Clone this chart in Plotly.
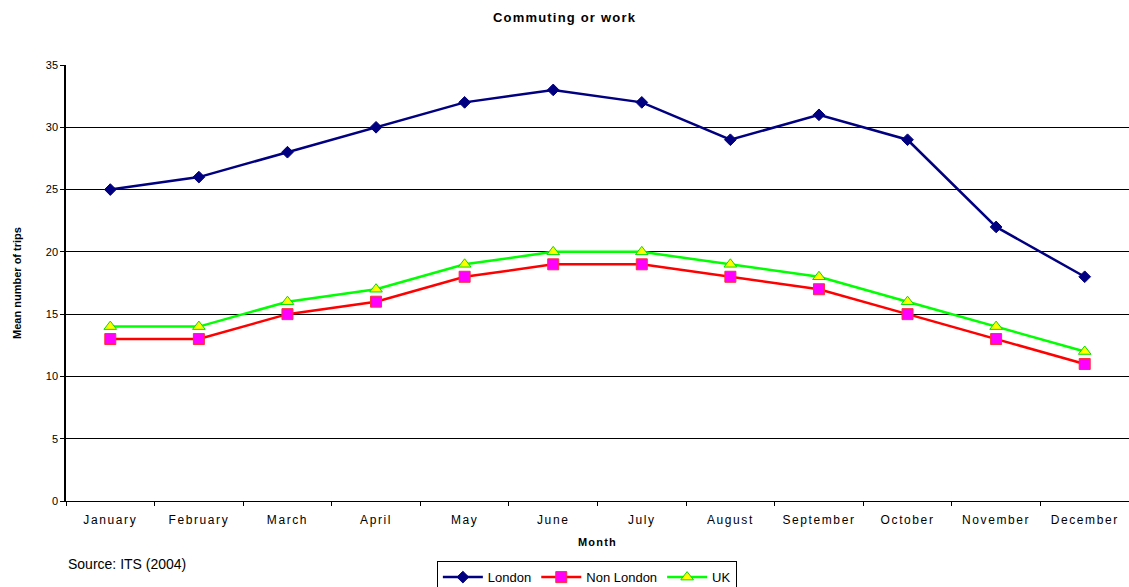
import plotly.graph_objects as go

months = ["January", "February", "March", "April", "May", "June", "July",
          "August", "September", "October", "November", "December"]
london = [25, 26, 28, 30, 32, 33, 32, 29, 31, 29, 22, 18]
non_london = [13, 13, 15, 16, 18, 19, 19, 18, 17, 15, 13, 11]
uk = [14, 14, 16, 17, 19, 20, 20, 19, 18, 16, 14, 12]
y_ticks = [0, 5, 10, 15, 20, 25, 30, 35]

FONT = "Liberation Sans, Arial, sans-serif"

fig = go.Figure()
fig.add_trace(go.Scatter(
    x=months, y=london, name="London", mode="lines+markers",
    line=dict(color="#000080", width=2.5),
    marker=dict(symbol="diamond", size=9, color="#000080",
                line=dict(color="#000080", width=1))))
fig.add_trace(go.Scatter(
    x=months, y=non_london, name="Non London", mode="lines+markers",
    line=dict(color="#ff0000", width=2.5),
    marker=dict(symbol="square", size=11, color="#ff00ff",
                line=dict(color="#ff3030", width=1))))
fig.add_trace(go.Scatter(
    x=months, y=uk, name="UK", mode="lines+markers",
    line=dict(color="#00ff00", width=2.5),
    marker=dict(symbol="triangle-up", size=11, color="#ffff00",
                line=dict(color="#00dd00", width=1))))

fig.update_layout(
    width=1129, height=587,
    margin=dict(l=66, r=0, t=65, b=86, autoexpand=False),
    paper_bgcolor="white", plot_bgcolor="white",
    font=dict(family=FONT, size=12, color="#000000"),
    title=dict(text="<b>Commuting or work</b>", x=0.5, xanchor="center",
               y=1 - 17 / 587, yanchor="middle", automargin=False,
               font=dict(size=13, family=FONT)),
    showlegend=True,
    legend=dict(orientation="h", x=0.49, xanchor="center", y=-0.138,
                yanchor="top", bordercolor="#000000", borderwidth=1,
                font=dict(size=13, family=FONT), bgcolor="white",
                tracegroupgap=0, itemwidth=40),
    xaxis=dict(type="category", categoryorder="array", categoryarray=months,
               tickson="boundaries", ticks="outside", ticklen=4,
               tickcolor="#000000", showline=True, linecolor="#000000",
               linewidth=1, showgrid=False, tickfont=dict(size=12),
               ticklabelstandoff=8,
               range=[-0.5, 11.5], automargin=False,
               title=dict(text="<b>Month</b>", font=dict(size=11), standoff=11)),
    yaxis=dict(range=[0, 35], tickvals=y_ticks, ticks="outside", ticklen=4,
               tickcolor="#000000", showline=True, linecolor="#000000",
               linewidth=1.5, showgrid=True, gridcolor="#000000", gridwidth=1,
               tickfont=dict(size=11), zeroline=False, automargin=False,
               title=dict(text="<b>Mean number of trips</b>",
                          font=dict(size=11), standoff=22)),
)

fig.add_annotation(text="Source: ITS (2004)", xref="paper", yref="paper",
                   x=0.0, xanchor="left", y=-0.121, yanchor="top",
                   showarrow=False, font=dict(size=14, family=FONT))

spacing_js = (
    "document.body.style.margin='0';"
    "document.body.style.overflow='hidden';"
    "var gd=document.getElementsByClassName('plotly-graph-div')[0];"
    "function sp(){document.querySelectorAll('.xtick text').forEach("
    "function(t){t.style.letterSpacing='1.6px';});"
    "document.querySelectorAll('.gtitle, .g-xtitle text').forEach("
    "function(t){t.style.letterSpacing='1.2px';});}"
    "sp();gd.on('plotly_afterplot',sp);"
)

fig.write_html("out.html", post_script=spacing_js,
               config={"displayModeBar": False})
